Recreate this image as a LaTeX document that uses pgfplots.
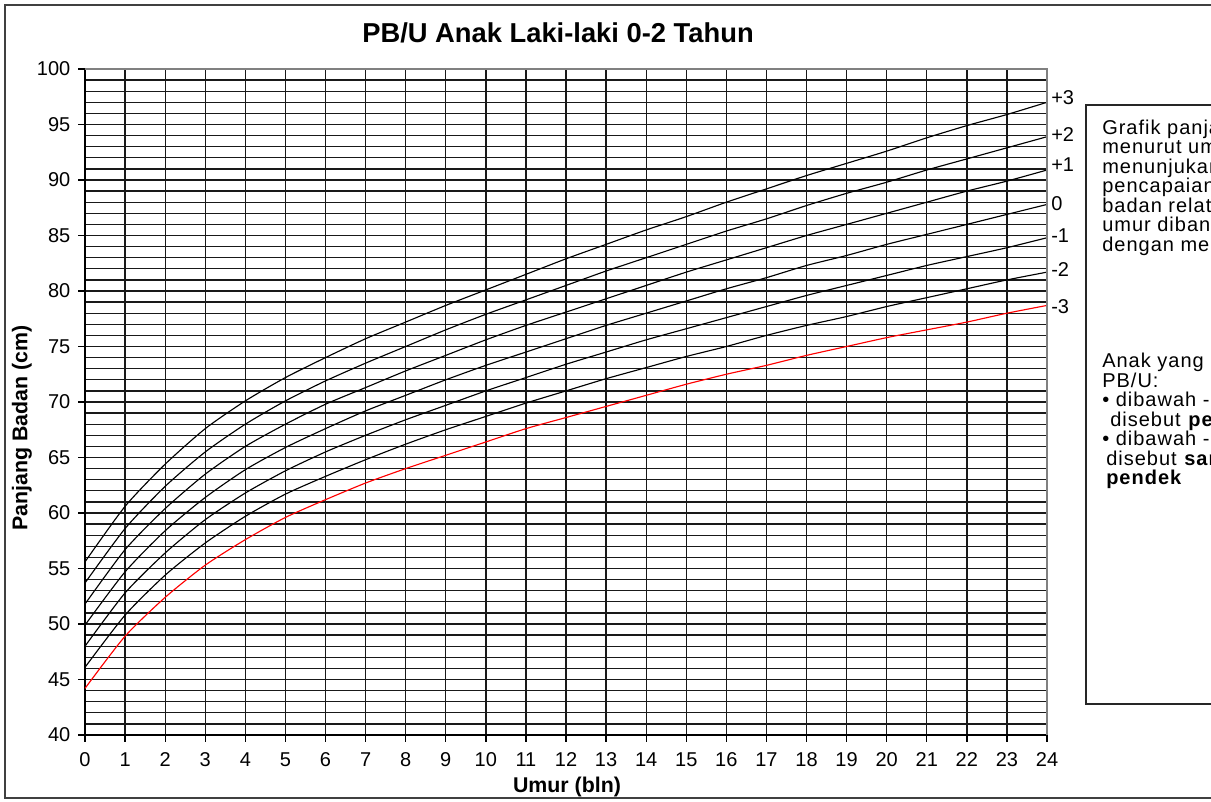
\documentclass[border=0pt]{standalone}
\usepackage{pgfplots}
\pgfplotsset{compat=1.18}
\usepackage{pgfplotstable}
\usepackage{fontspec}
\setmainfont{Liberation Sans}

% WHO panjang badan menurut umur, laki-laki 0-24 bulan
\pgfplotstableread{
m   mtiga mdua msatu med  psatu pdua ptiga
0   44.2  46.1 48.0  49.9 51.8  53.7 55.6
1   48.9  50.8 52.8  54.7 56.7  58.6 60.6
2   52.4  54.4 56.4  58.4 60.4  62.4 64.4
3   55.3  57.3 59.4  61.4 63.5  65.5 67.6
4   57.6  59.7 61.8  63.9 66.0  68.0 70.1
5   59.6  61.7 63.8  65.9 68.0  70.1 72.2
6   61.2  63.3 65.5  67.6 69.8  71.9 74.0
7   62.7  64.8 67.0  69.2 71.3  73.5 75.7
8   64.0  66.2 68.4  70.6 72.8  75.0 77.2
9   65.2  67.5 69.7  72.0 74.2  76.5 78.7
10  66.4  68.7 71.0  73.3 75.6  77.9 80.1
11  67.6  69.9 72.2  74.5 76.9  79.2 81.5
12  68.6  71.0 73.4  75.7 78.1  80.5 82.9
13  69.6  72.1 74.5  76.9 79.3  81.8 84.2
14  70.6  73.1 75.6  78.0 80.5  83.0 85.5
15  71.6  74.1 76.6  79.1 81.7  84.2 86.7
16  72.5  75.0 77.6  80.2 82.8  85.4 88.0
17  73.3  76.0 78.6  81.2 83.9  86.5 89.2
18  74.2  76.9 79.6  82.3 85.0  87.7 90.4
19  75.0  77.7 80.5  83.2 86.0  88.8 91.5
20  75.8  78.6 81.4  84.2 87.0  89.8 92.6
21  76.5  79.4 82.3  85.1 88.0  90.9 93.8
22  77.2  80.2 83.1  86.0 89.0  91.9 94.9
23  78.0  81.0 83.9  86.9 89.9  92.9 95.9
24  78.7  81.7 84.8  87.8 90.9  93.9 97.0
}\pbu

\begin{document}
\begin{tikzpicture}
% bingkai luar
\draw[black!75, line width=1.5pt] (3.75pt,2.25pt) rectangle (930pt,597pt);
\node[font=\bfseries\fontsize{20.5}{24}\selectfont] at (418.5pt,576pt) {PB/U Anak Laki-laki 0-2 Tahun};

\begin{axis}[
    at={(63.75pt,49.5pt)}, anchor=south west,
    scale only axis, width=721.5pt, height=499.5pt,
    xmin=0, xmax=24, ymin=40, ymax=100,
    xtick distance=1, ytick distance=5, minor y tick num=4,
    grid=both,
    major grid style={black!90, line width=1pt},
    minor grid style={black!90, line width=1pt},
    axis x line=bottom, axis y line=left,
    axis line style={-, black, line width=1pt},
    tick style={black, line width=1pt},
    tick align=outside, major tick length=5pt, minor tick length=0pt,
    ticklabel style={font=\fontsize{15}{17}\selectfont},
    yticklabel style={xshift=-2.5pt},
    xticklabel style={anchor=north, text height=11pt, text depth=0pt, yshift=-4pt},
    /pgf/number format/assume math mode=true,
    clip=false,
    every axis plot/.append style={line width=0.85pt, no marks, smooth, tension=0.4},
]
\addplot[black] table[x=m, y=ptiga] {\pbu};
\addplot[black] table[x=m, y=pdua] {\pbu};
\addplot[black] table[x=m, y=psatu] {\pbu};
\addplot[black] table[x=m, y=med] {\pbu};
\addplot[black] table[x=m, y=msatu] {\pbu};
\addplot[black] table[x=m, y=mdua] {\pbu};
\addplot[red] table[x=m, y=mtiga] {\pbu};
\draw[gray, line width=1pt] (rel axis cs:0,1) -- (rel axis cs:1,1) -- (rel axis cs:1,0);
\begin{scope}[every node/.style={anchor=west, inner sep=0pt, xshift=3pt, font=\fontsize{15}{17}\selectfont}]
\node at (axis cs:24,97.4) {+3};
\node at (axis cs:24,94.1) {+2};
\node at (axis cs:24,91.4) {+1};
\node at (axis cs:24,87.9) {0};
\node at (axis cs:24,85.0) {-1};
\node at (axis cs:24,81.9) {-2};
\node at (axis cs:24,78.6) {-3};
\end{scope}
\end{axis}

\node[rotate=90, font=\bfseries\fontsize{16}{19}\selectfont] at (16.5pt,279.75pt) {Panjang Badan (cm)};
\node[font=\bfseries\fontsize{16}{19}\selectfont] at (425.25pt,10.5pt) {Umur (bln)};

% kotak keterangan
\draw[black!85, line width=1.5pt] (814.5pt,72.75pt) rectangle (930pt,522pt);
\node[anchor=north west, inner sep=0pt, align=left, font=\fontsize{15}{14.6}\selectfont\addfontfeature{LetterSpace=5}]
  at (826.5pt,511pt) {Grafik panjang badan\\ menurut umur (PB/U)\\ menunjukan tingkat\\ pencapaian panjang\\ badan relatif terhadap\\ umur dibandingkan\\ dengan median.\\[72.75pt]
  Anak yang memiliki\\ PB/U:\\ \textbullet\ dibawah -2 SD\\ \hspace{6pt}disebut \textbf{pendek}\\ \textbullet\ dibawah -3 SD\\ \hspace{3pt}disebut \textbf{sangat}\\ \hspace{3pt}\textbf{pendek}};

\pgfresetboundingbox
\path (0,0) rectangle (908.25pt,600.75pt);
\end{tikzpicture}
\end{document}
